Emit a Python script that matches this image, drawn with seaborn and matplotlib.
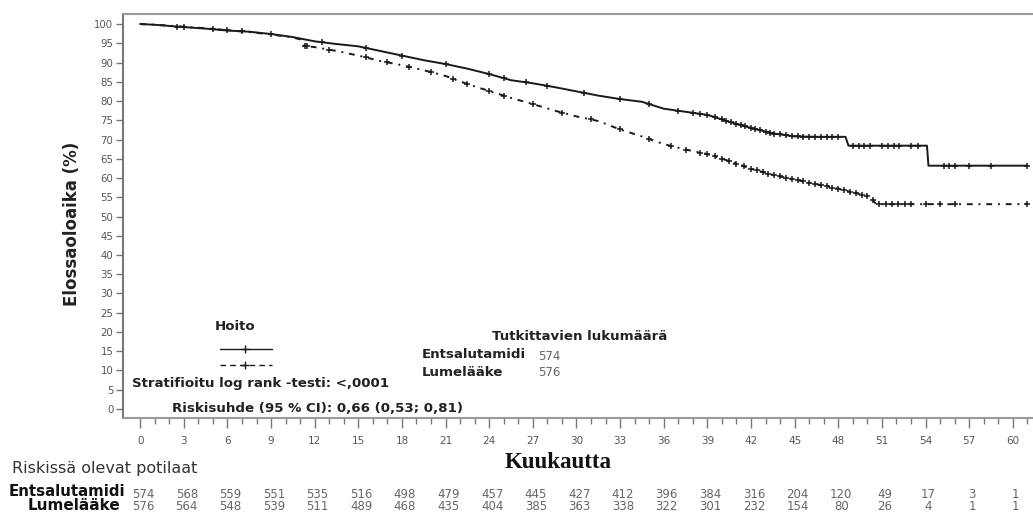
import numpy as np
import pandas as pd
import matplotlib
matplotlib.use("Agg")
import matplotlib.pyplot as plt
import seaborn as sns

# ---- Data ----
ents_t = [0, 1, 2, 3, 4.5, 6, 7.5, 9, 10.5, 12, 13.5, 15, 16.5, 18, 19.5, 21, 22.5, 24,
          25.5, 27, 28.5, 30, 31.5, 33, 34.5, 36, 37.5, 39, 40.5, 42, 43.5, 45, 46.5,
          48.5, 48.7, 54.1, 54.2, 61]
ents_s = [100, 99.8, 99.5, 99.2, 98.8, 98.3, 98.0, 97.4, 96.6, 95.5, 94.8, 94.2, 93.0,
          91.8, 90.6, 89.6, 88.4, 87.0, 85.4, 84.6, 83.6, 82.5, 81.4, 80.5, 79.8, 78.0,
          77.2, 76.4, 74.6, 73.0, 71.6, 70.8, 70.7, 70.7, 68.4, 68.4, 63.2, 63.2]

plac_t = [0, 1.5, 3, 4.5, 6, 7.5, 9, 10.5, 11.0, 11.3, 12, 13.5, 15, 16.5, 18, 19.5, 21,
          22.5, 24, 25.5, 27, 28.5, 30, 31.5, 33, 34.5, 36, 37.5, 39, 40.5, 42, 43.5, 45,
          46.5, 48, 49.5, 50.2, 50.6, 61]
plac_s = [100, 99.7, 99.3, 98.9, 98.4, 97.9, 97.3, 96.5, 96.0, 94.3, 94.0, 93.0, 91.8,
          90.4, 89.3, 88.0, 86.5, 84.4, 82.6, 80.8, 79.2, 77.5, 76.0, 74.8, 72.6, 70.8,
          68.8, 67.4, 66.2, 64.4, 62.4, 60.8, 59.6, 58.4, 57.2, 55.8, 55.2, 53.2, 53.2]

ents_cens = [2.5, 5.0, 7.0, 9.0, 12.5, 15.5, 18.0, 21.0, 24.0, 25.0, 26.5, 28.0, 30.5,
             33.0, 35.0, 37.0, 38.0, 38.5, 39.0, 39.5, 40.0, 40.3, 40.6, 41.0, 41.3, 41.6,
             42.0, 42.3, 42.6, 43.0, 43.3, 43.6, 44.0, 44.4, 44.8, 45.2, 45.6, 46.0, 46.4,
             46.8, 47.2, 47.6, 48.0, 49.0, 49.4, 49.8, 50.2, 51.0, 51.4, 51.8, 52.2, 53.0,
             53.5, 55.3, 55.6, 56.0, 57.0, 58.5, 61.0]
plac_cens = [3.0, 6.0, 11.3, 11.5, 13.0, 15.5, 17.0, 18.5, 20.0, 21.5, 22.5, 24.0, 25.0,
             27.0, 29.0, 31.0, 33.0, 35.0, 36.5, 37.5, 38.5, 39.0, 39.5, 40.0, 40.5, 41.0,
             41.5, 42.0, 42.4, 42.8, 43.2, 43.6, 44.0, 44.4, 44.8, 45.2, 45.6, 46.0, 46.4,
             46.8, 47.2, 47.6, 48.0, 48.4, 48.8, 49.2, 49.6, 50.0, 50.4, 50.8, 51.3, 51.7,
             52.1, 52.6, 53.0, 54.0, 55.0, 56.0, 61.0]

risk_times = [0, 3, 6, 9, 12, 15, 18, 21, 24, 27, 30, 33, 36, 39, 42, 45, 48, 51, 54, 57, 60]
risk_ents = [574, 568, 559, 551, 535, 516, 498, 479, 457, 445, 427, 412, 396, 384, 316,
             204, 120, 49, 17, 3, 1]
risk_plac = [576, 564, 548, 539, 511, 489, 468, 435, 404, 385, 363, 338, 322, 301, 232,
             154, 80, 26, 4, 1, 1]

# ---- Figure ----
sns.set_theme(style="white")
plt.rcParams["font.family"] = ["DejaVu Sans"]

W, H = 1033, 515
fig = plt.figure(figsize=(W / 100, H / 100), dpi=100)
ax = fig.add_axes([123 / W, 1 - 418 / H, (W - 123) / W + 0.01, (418 - 14) / H])

def surv_at(ts, ss, t):
    return float(np.interp(t, ts, ss))

dark = "#1a1a1a"
df_e = pd.DataFrame({"t": ents_t, "s": ents_s})
df_p = pd.DataFrame({"t": plac_t, "s": plac_s})
sns.lineplot(data=df_e, x="t", y="s", sort=False, color=dark, lw=1.4,
             estimator=None, ax=ax)
sns.lineplot(data=df_p, x="t", y="s", sort=False, color=dark, lw=1.4,
             estimator=None, ax=ax, linestyle=(0, (3, 3, 1, 3)))

ce = pd.DataFrame({"t": ents_cens, "s": [surv_at(ents_t, ents_s, t) for t in ents_cens]})
cp = pd.DataFrame({"t": plac_cens, "s": [surv_at(plac_t, plac_s, t) for t in plac_cens]})
sns.scatterplot(data=ce, x="t", y="s", marker="+", s=16, color=dark, linewidth=1.1, ax=ax)
sns.scatterplot(data=cp, x="t", y="s", marker="+", s=16, color=dark, linewidth=1.1, ax=ax)

ax.set_xlim(-1.18, 62.1)
ax.set_ylim(-2.34, 102.6)
ax.set_xticks(risk_times)
ax.set_xticks(np.arange(0, 62, 1), minor=True)
ax.set_yticks(np.arange(0, 101, 5))
ax.set_xticklabels([str(t) for t in risk_times])
ax.tick_params(axis="x", which="major", direction="out", length=7, width=1, color="#777",
               labelsize=7.5, labelcolor="#555", pad=6, bottom=True)
ax.tick_params(axis="x", which="minor", direction="out", length=4, width=1, color="#777",
               bottom=True)
ax.tick_params(axis="y", which="major", direction="out", length=5, width=1, color="#777",
               labelsize=7.3, labelcolor="#555", pad=2, left=True)
ax.set_xlabel("")
ax.set_ylabel("")
for side in ["top", "bottom", "left"]:
    ax.spines[side].set_color("#999")
    ax.spines[side].set_linewidth(1.5)
ax.spines["left"].set_color("#777")
ax.spines["right"].set_visible(False)

# Axis labels
fig.text(72 / W, 1 - 224 / H, "Elossaoloaika (%)", rotation=90, ha="center", va="center",
         fontsize=12, fontweight="bold", color="#222")
fig.text(558 / W, 1 - 463 / H, "Kuukautta", ha="center", va="center", fontsize=16.5,
         fontweight="bold", color="#111", family=["Liberation Serif", "DejaVu Serif"])

# In-plot legend / annotations
txtc = "#222"
fs = 9.6
fig.text(215 / W, 1 - 327 / H, "Hoito", ha="left", va="center", fontsize=fs,
         fontweight="bold", color=txtc)
fig.add_artist(plt.Line2D([220 / W, 272 / W], [1 - 349 / H, 1 - 349 / H], color=dark, lw=1,
                          transform=fig.transFigure))
fig.add_artist(plt.Line2D([245 / W], [1 - 349 / H], marker="+", color=dark, ms=6,
                          transform=fig.transFigure))
fig.add_artist(plt.Line2D([220 / W, 272 / W], [1 - 365 / H, 1 - 365 / H], color=dark, lw=1,
                          linestyle=(0, (4, 3)), transform=fig.transFigure))
fig.add_artist(plt.Line2D([245 / W], [1 - 365 / H], marker="+", color=dark, ms=6,
                          transform=fig.transFigure))
fig.text(132 / W, 1 - 384 / H, "Stratifioitu log rank -testi: <,0001", ha="left",
         va="center", fontsize=fs, fontweight="bold", color=txtc)
fig.text(172 / W, 1 - 408 / H, "Riskisuhde (95 % CI): 0,66 (0,53; 0,81)", ha="left",
         va="center", fontsize=fs, fontweight="bold", color=txtc)
fig.text(492 / W, 1 - 336 / H, "Tutkittavien lukumäärä", ha="left", va="center",
         fontsize=fs, fontweight="bold", color=txtc)
fig.text(422 / W, 1 - 355 / H, "Entsalutamidi", ha="left", va="center", fontsize=fs,
         fontweight="bold", color=txtc)
fig.text(422 / W, 1 - 372 / H, "Lumelääke", ha="left", va="center", fontsize=fs,
         fontweight="bold", color=txtc)
fig.text(538 / W, 1 - 357 / H, "574", ha="left", va="center", fontsize=8.5, color="#666")
fig.text(538 / W, 1 - 373 / H, "576", ha="left", va="center", fontsize=8.5, color="#666")

# Risk table
fig.text(12 / W, 1 - 468 / H, "Riskissä olevat potilaat", ha="left", va="center",
         fontsize=11.5, color="#333")
fig.text(125 / W, 1 - 492 / H, "Entsalutamidi", ha="right", va="center", fontsize=10.8,
         fontweight="bold", color="#111")
fig.text(120 / W, 1 - 506 / H, "Lumelääke", ha="right", va="center", fontsize=11,
         fontweight="bold", color="#111")
for t, ne, npl in zip(risk_times, risk_ents, risk_plac):
    xf = ax.transData.transform((t, 0))[0] / W + 3 / W
    fig.text(xf, 1 - 495 / H, str(ne), ha="center", va="center", fontsize=8.5, color="#666")
    fig.text(xf, 1 - 507 / H, str(npl), ha="center", va="center", fontsize=8.5, color="#666")

fig.savefig("out.png", dpi=100)
